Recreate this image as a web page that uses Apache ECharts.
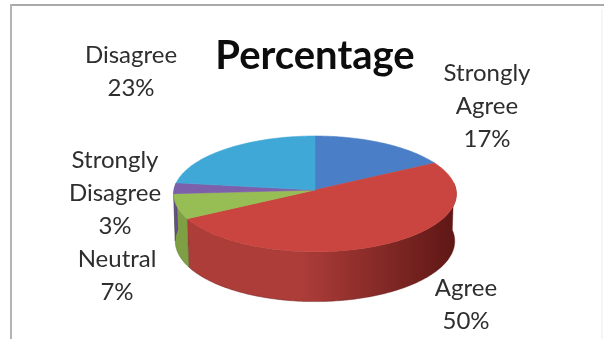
<!DOCTYPE html>
<html>
<head>
<meta charset="utf-8">
<script src="https://cdn.jsdelivr.net/npm/echarts@6/dist/echarts.min.js"></script>
<style>
  html, body { margin: 0; padding: 0; background: #ffffff; }
  #chart { width: 604px; height: 339px; }
</style>
</head>
<body>
<div id="chart"></div>
<script>
// Survey answers and their share of responses (percent)
const categories = ['Strongly\nAgree', 'Agree', 'Neutral', 'Strongly\nDisagree', 'Disagree'];
const values = [17, 50, 7, 3, 23];
const chartTitle = 'Percentage';

// Slice colours: top face, and side wall (light edge -> dark edge)
const topColors = ['#4a7ec6', '#ca4440', '#97bd55', '#7c60ab', '#40a8d6'];
const sideColors = [
  ['#3d6aa6', '#25426b'],
  ['#ad3d39', '#5e1715'],
  ['#7f9f45', '#52682b'],
  ['#664f8d', '#3f3058'],
  ['#3590b6', '#205a72']
];

// Label placement around the pie (centre of each text block)
const labelLayout = [
  { x: 487, y: 106 },
  { x: 466, y: 305 },
  { x: 117, y: 276 },
  { x: 115, y: 193 },
  { x: 131, y: 72 }
];

// Perspective view of the 3D disc
const VIEW = { cx: 315, cy: 190, R: 141, tilt: 0.4213, dist: 13.4, depth: 0.37 };

function project(X, Y, Z) {
  const s = Math.sin(VIEW.tilt), c = Math.cos(VIEW.tilt);
  const yc = Y * c + Z * s;
  const zc = Z * c - Y * s;
  const w = VIEW.dist / (VIEW.dist + zc);
  return [VIEW.cx + VIEW.R * X * w, VIEW.cy - VIEW.R * yc * w];
}

// Rim point at angle t, measured clockwise from 12 o'clock (the far side)
function rim(t, Y) {
  return project(Math.sin(t), Y, Math.cos(t));
}

function arcPoints(a0, a1, Y) {
  const pts = [];
  const n = Math.max(2, Math.ceil((a1 - a0) / (Math.PI / 180)));
  for (let k = 0; k <= n; k++) pts.push(rim(a0 + (a1 - a0) * k / n, Y));
  return pts;
}

const total = values.reduce((a, b) => a + b, 0);

function renderSlice(params, api) {
  const i = params.dataIndex;
  let before = 0;
  for (let k = 0; k < i; k++) before += values[k];
  const a0 = before / total * Math.PI * 2;
  const a1 = (before + api.value(0)) / total * Math.PI * 2;
  const children = [];

  // Side wall: only the near half of the disc can be seen
  const lo = Math.max(a0, Math.PI / 2 - 0.12);
  const hi = Math.min(a1, Math.PI * 1.5 + 0.12);
  if (hi > lo) {
    const topEdge = arcPoints(lo, hi, 0);
    const bottomEdge = arcPoints(lo, hi, -VIEW.depth).reverse();
    const left = rim(Math.PI * 1.5, 0)[0];
    const right = rim(Math.PI / 2, 0)[0];
    children.push({
      type: 'polygon',
      z2: 1,
      shape: { points: topEdge.concat(bottomEdge) },
      style: {
        fill: new echarts.graphic.LinearGradient(right, 0, left, 0, [
          { offset: 0, color: sideColors[i][1] },
          { offset: 0.55, color: sideColors[i][0] },
          { offset: 1, color: sideColors[i][0] }
        ], true),
        stroke: sideColors[i][1],
        lineWidth: 0.4
      }
    });
  }

  // Top face
  const face = [project(0, 0, 0)].concat(arcPoints(a0, a1, 0));
  children.push({
    type: 'polygon',
    z2: 10,
    shape: { points: face },
    style: { fill: topColors[i], stroke: topColors[i], lineWidth: 0.6 }
  });
  return { type: 'group', children: children };
}

const labelFont = 'Lato, "Open Sans", sans-serif';
const labelGraphics = categories.map((name, i) => ({
  type: 'text',
  x: labelLayout[i].x,
  y: labelLayout[i].y,
  z: 20,
  style: {
    text: name + '\n' + values[i] + '%',
    font: '24px ' + labelFont,
    fill: '#2e2e2e',
    align: 'center',
    verticalAlign: 'middle',
    lineHeight: 33
  }
}));

const frame = [
  { type: 'line', shape: { x1: 10, y1: 5, x2: 604, y2: 5 }, style: { stroke: '#a9a9a9', lineWidth: 2 } },
  { type: 'line', shape: { x1: 11, y1: 4, x2: 11, y2: 339 }, style: { stroke: '#b4b4b4', lineWidth: 2 } },
  { type: 'line', shape: { x1: 602, y1: 9, x2: 602, y2: 339 }, style: { stroke: '#ececec', lineWidth: 1 } }
];

const chart = echarts.init(document.getElementById('chart'), null, { renderer: 'canvas' });
chart.setOption({
  backgroundColor: '#ffffff',
  animation: false,
  graphic: frame.concat(labelGraphics).concat([{
    type: 'text',
    x: 315,
    y: 56,
    z: 20,
    style: {
      text: chartTitle,
      font: 'bold 40px ' + labelFont,
      fill: '#0d0d0d',
      align: 'center',
      verticalAlign: 'middle'
    }
  }]),
  series: [{
    type: 'custom',
    coordinateSystem: 'none',
    renderItem: renderSlice,
    data: values.map(v => [v]),
    silent: true
  }]
});
</script>
</body>
</html>
